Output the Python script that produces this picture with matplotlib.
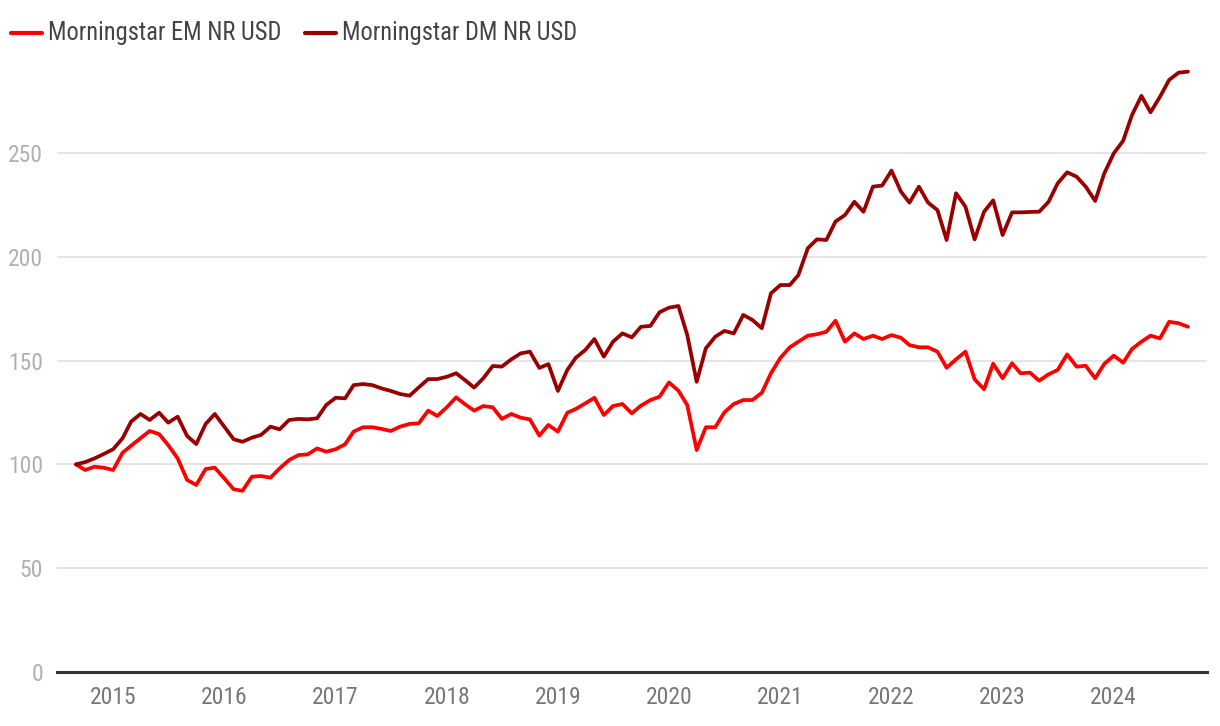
import matplotlib
matplotlib.use("Agg")
import matplotlib.pyplot as plt
import matplotlib.dates as mdates
from matplotlib import font_manager
from matplotlib.lines import Line2D
import pandas as pd

# pick a condensed/narrow face if one is installed, else Roboto
_names = sorted({f.name for f in font_manager.fontManager.ttflist})
_cond = [n for n in _names if any(k in n for k in ("Condensed", "Narrow"))]
_pref = [n for n in _cond if "Roboto" in n] + [n for n in _cond if "Liberation" in n] + _cond
base_family = _pref[0] if _pref else "Roboto"
plt.rcParams['font.family'] = [base_family, 'DejaVu Sans']
plt.rcParams['font.stretch'] = 'condensed'

series_names = ["Morningstar EM NR USD", "Morningstar DM NR USD"]
dates = pd.date_range("2014-09-01", periods=121, freq="MS")

em_values = [
    100, 97.3, 98.9, 98.4, 97.3, 105.6, 109, 112.6, 116.1, 114.6,
    109.3, 102.9, 92.5, 90.1, 97.8, 98.4, 93.3, 88, 87.3, 94.1,
    94.4, 93.6, 98.1, 102.1, 104.5, 104.8, 107.7, 106.1, 107.3, 109.7,
    115.8, 117.9, 117.9, 117.1, 116.1, 118.2, 119.5, 119.8, 125.9, 123.3,
    127.5, 132.3, 129.1, 125.9, 128.1, 127.5, 121.9, 124.3, 122.5, 121.7,
    113.9, 119, 115.8, 124.9, 126.7, 129.4, 132.1, 123.8, 128.1, 129.1,
    124.6, 128.3, 131, 132.6, 139.5, 135.5, 128.6, 106.9, 117.9, 117.9,
    125.1, 129.1, 131, 131, 134.5, 143.9, 151.3, 156.4, 159.1, 162,
    162.7, 163.9, 169.2, 159.1, 163.1, 160.4, 162, 160.4, 162.3, 161,
    157.5, 156.4, 156.4, 154.3, 146.6, 150.6, 154.3, 141, 136.2, 148.5,
    141.5, 148.7, 143.9, 144.2, 140.3, 143.4, 145.5, 153, 147.1, 147.5,
    141.5, 148.4, 152.4, 149, 155.6, 159.1, 162, 160.7, 168.7, 168,
    166.3,
]

dm_values = [
    100, 101.1, 102.9, 105, 107.3, 112.6, 120.6, 124.3, 121.4, 124.9,
    120.1, 123, 113.7, 109.8, 119.5, 124.3, 118.2, 112.1, 110.9, 112.9,
    114.2, 118.2, 116.9, 121.4, 121.9, 121.7, 122.2, 128.6, 132.1, 131.8,
    138.2, 138.7, 138.2, 136.6, 135.4, 133.9, 133.1, 137.1, 141.1, 141.1,
    142.2, 143.9, 140.7, 137, 141.5, 147.4, 147.1, 150.6, 153.5, 154.3,
    146.5, 148.3, 135.4, 145.5, 151.4, 155.1, 160.4, 151.9, 159.1, 163.1,
    161.2, 166.3, 166.7, 173.3, 175.5, 176.3, 162.3, 139.8, 155.9, 161.5,
    164.3, 163.1, 172, 169.6, 165.6, 182.4, 186.4, 186.4, 191.2, 204.1,
    208.4, 208.1, 217, 220.1, 226.5, 221.7, 233.8, 234.3, 241.5, 231.4,
    226.1, 233.8, 226.1, 222.5, 208.1, 230.6, 224.1, 208.4, 221.7, 227.2,
    210.5, 221.4, 221.4, 221.6, 221.7, 226.5, 235.4, 240.7, 238.6, 233.8,
    226.9, 240.2, 249.8, 255.9, 268.3, 277.5, 269.6, 277.1, 285.2, 288.7,
    289.2,
]

y_ticks = [0, 50, 100, 150, 200, 250]
colors = ["#ff0000", "#9b0000"]

W, H = 1220, 726
fig = plt.figure(figsize=(W / 100, H / 100), dpi=100)
ax = fig.add_axes([57 / W, 1 - 672 / H, (1207 - 57) / W, (672 - 60) / H])

for vals, c in zip([em_values, dm_values], colors):
    ax.plot(dates, vals, color=c, lw=2.7, solid_joinstyle="round",
            solid_capstyle="round", clip_on=False, zorder=3)

ax.set_ylim(0, (672 - 60) / 2.076)
ax.set_xlim(dates[0] - pd.Timedelta(days=62.4), dates[-1] + pd.Timedelta(days=62.4))
ax.set_yticks(y_ticks)
ax.xaxis.set_major_locator(mdates.YearLocator())
ax.xaxis.set_major_formatter(mdates.DateFormatter("%Y"))

ax.grid(axis="y", color="#e2e2e2", lw=1.3, zorder=0)
ax.grid(axis="x", visible=False)
for s in ["top", "right", "left"]:
    ax.spines[s].set_visible(False)
ax.spines["bottom"].set_color("#333333")
ax.spines["bottom"].set_linewidth(2.2)
ax.spines["bottom"].set_zorder(4)

ax.tick_params(axis="y", length=0, pad=10, labelsize=17, labelcolor="#b0b0b0")
ax.tick_params(axis="x", length=0, pad=10, labelsize=17, labelcolor="#777777")

# legend (glyphs + labels), label size fitted to the reference text width
renderer = fig.canvas.get_renderer()
ly = 1 - 33 / H
probe = fig.text(0, 0, series_names[0], fontsize=18)
w = probe.get_window_extent(renderer).width
probe.remove()
leg_size = min(18.0, 18.0 * 234.0 / w)

x = 11
for name, c in zip(series_names, colors):
    fig.add_artist(Line2D([x / W, (x + 31) / W], [ly, ly], transform=fig.transFigure,
                          color=c, lw=3, solid_capstyle="round"))
    t = fig.text((x + 37) / W, ly, name, fontsize=leg_size, color="#444444",
                 va="center", ha="left")
    x = x + 37 + t.get_window_extent(renderer).width + 24

fig.savefig("out.png", dpi=100)
